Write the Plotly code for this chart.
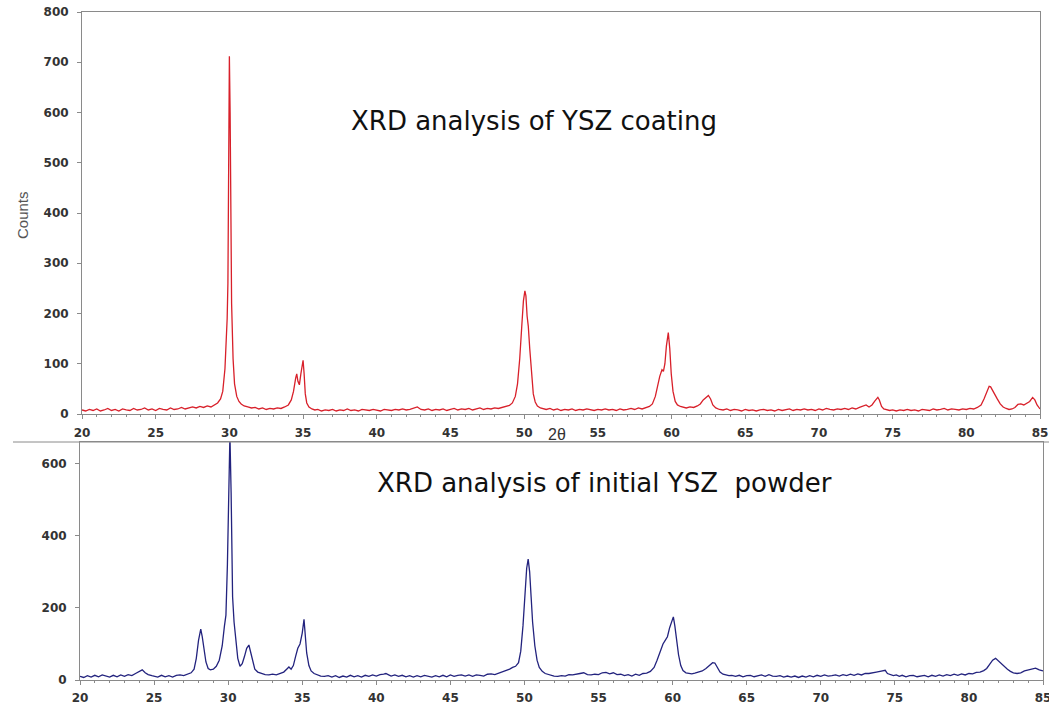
import plotly.graph_objects as go

# ---- YSZ coating (top panel) ----
coat_x = [20.0,20.25,20.5,20.75,21.0,21.25,21.5,21.75,22.0,22.25,22.5,22.75,23.0,23.25,23.5,23.75,24.0,24.25,24.5,24.75,
          25.0,25.25,25.5,25.75,26.0,26.25,26.5,26.75,27.0,27.25,27.5,27.75,28.0,28.25,28.5,28.75,29.0,29.2,29.4,29.55,
          29.7,29.8,29.85,29.9,29.95,30.0,30.05,30.1,30.15,30.25,30.35,30.5,30.65,30.8,31.0,31.25,31.5,31.75,32.0,32.25,
          32.5,32.75,33.0,33.25,33.5,33.75,34.0,34.2,34.35,34.5,34.57,34.65,34.75,34.85,34.95,35.0,35.07,35.15,35.25,35.4,
          35.6,35.8,36.0,36.25,36.5,36.75,37.0,37.25,37.5,37.75,38.0,38.25,38.5,38.75,39.0,39.25,39.5,39.75,40.0,40.25,
          40.5,40.75,41.0,41.25,41.5,41.75,42.0,42.25,42.5,42.75,43.0,43.25,43.5,43.75,44.0,44.25,44.5,44.75,45.0,45.25,
          45.5,45.75,46.0,46.25,46.5,46.75,47.0,47.25,47.5,47.75,48.0,48.25,48.5,48.75,49.0,49.2,49.4,49.55,49.7,49.85,
          49.95,50.05,50.12,50.2,50.28,50.38,50.5,50.62,50.75,50.9,51.1,51.3,51.5,51.75,52.0,52.25,52.5,52.75,53.0,53.25,
          53.5,53.75,54.0,54.25,54.5,54.75,55.0,55.25,55.5,55.75,56.0,56.25,56.5,56.75,57.0,57.25,57.5,57.75,58.0,58.25,
          58.5,58.7,58.9,59.05,59.2,59.35,59.45,59.55,59.65,59.78,59.88,59.98,60.1,60.25,60.4,60.6,60.8,61.0,61.25,61.5,
          61.75,61.95,62.15,62.35,62.5,62.65,62.8,63.0,63.25,63.5,63.75,64.0,64.25,64.5,64.75,65.0,65.25,65.5,65.75,66.0,
          66.25,66.5,66.75,67.0,67.25,67.5,67.75,68.0,68.25,68.5,68.75,69.0,69.25,69.5,69.75,70.0,70.25,70.5,70.75,71.0,
          71.25,71.5,71.75,72.0,72.25,72.5,72.75,73.0,73.2,73.4,73.6,73.8,74.0,74.1,74.25,74.4,74.6,74.8,75.0,75.25,
          75.5,75.75,76.0,76.25,76.5,76.75,77.0,77.25,77.5,77.75,78.0,78.25,78.5,78.75,79.0,79.25,79.5,79.75,80.0,80.25,
          80.5,80.75,81.0,81.2,81.4,81.55,81.65,81.75,81.9,82.1,82.3,82.5,82.7,82.9,83.1,83.3,83.5,83.7,83.9,84.1,
          84.3,84.5,84.65,84.8,85.0]
coat_y = [8,6,9,7,10,6,8,11,7,9,6,10,8,7,11,8,9,12,8,10,
          7,11,9,8,12,9,10,13,10,12,14,12,15,13,16,14,18,22,30,45,
          90,150,190,260,450,712,600,380,220,110,60,35,25,20,16,14,12,13,10,12,
          9,11,10,12,11,14,18,28,45,72,80,65,58,80,105,107,80,40,22,14,
          10,8,9,6,8,7,9,6,8,7,10,7,8,6,9,8,7,9,8,6,
          9,8,7,9,8,10,8,9,11,14,9,8,10,7,9,8,10,7,9,11,
          8,10,9,11,8,10,12,9,11,10,12,11,13,15,17,22,35,60,110,180,
          225,245,235,195,175,130,75,40,24,16,12,10,9,11,8,10,7,9,8,10,
          7,9,8,10,9,7,9,8,10,8,9,7,10,8,9,11,9,12,10,13,
          15,20,35,55,75,88,85,100,135,162,130,80,45,25,18,15,14,12,14,13,
          16,20,28,34,37,30,18,12,9,8,10,7,9,8,6,9,7,8,6,8,
          9,7,8,6,9,7,8,10,7,9,8,10,8,9,7,10,8,11,9,8,
          10,9,11,9,12,10,13,15,18,14,18,26,33,28,15,10,8,7,8,6,
          8,7,9,7,8,6,9,8,7,10,8,9,11,8,10,9,8,10,9,11,
          10,13,18,30,45,55,54,48,40,30,20,14,11,9,10,13,19,20,18,22,
          25,33,28,18,10]

# ---- initial YSZ powder (bottom panel) ----
pow_x = [20.0,20.25,20.5,20.75,21.0,21.25,21.5,21.75,22.0,22.25,22.5,22.75,23.0,23.25,23.5,23.75,24.0,24.2,24.4,24.6,
         24.85,25.0,25.25,25.5,25.75,26.0,26.25,26.5,26.75,27.0,27.25,27.5,27.7,27.85,28.0,28.15,28.25,28.35,28.5,28.65,
         28.8,29.0,29.2,29.4,29.6,29.75,29.85,29.95,30.05,30.12,30.2,30.3,30.4,30.5,30.65,30.8,30.95,31.1,31.25,31.4,
         31.5,31.65,31.8,32.0,32.25,32.5,32.75,33.0,33.25,33.5,33.75,34.0,34.1,34.25,34.4,34.55,34.7,34.85,35.0,35.12,
         35.2,35.3,35.45,35.6,35.8,36.0,36.25,36.5,36.75,37.0,37.25,37.5,37.75,38.0,38.25,38.5,38.75,39.0,39.25,39.5,
         39.75,40.0,40.25,40.5,40.65,40.8,41.0,41.25,41.5,41.75,42.0,42.25,42.5,42.75,43.0,43.25,43.5,43.75,44.0,44.25,
         44.5,44.75,45.0,45.25,45.5,45.75,46.0,46.25,46.5,46.75,47.0,47.25,47.5,47.75,48.0,48.25,48.5,48.75,49.0,49.2,
         49.4,49.6,49.75,49.9,50.05,50.15,50.25,50.35,50.45,50.55,50.7,50.85,51.0,51.2,51.4,51.6,51.8,52.0,52.25,52.5,
         52.75,53.0,53.25,53.5,53.75,54.0,54.25,54.5,54.75,55.0,55.25,55.5,55.75,56.0,56.25,56.5,56.75,57.0,57.25,57.5,
         57.75,58.0,58.25,58.5,58.75,58.95,59.15,59.35,59.5,59.65,59.8,59.95,60.05,60.15,60.25,60.4,60.55,60.7,60.9,61.1,
         61.3,61.5,61.75,62.0,62.25,62.5,62.7,62.85,63.0,63.2,63.4,63.6,63.8,64.0,64.25,64.5,64.75,65.0,65.25,65.5,
         65.75,66.0,66.25,66.5,66.75,67.0,67.25,67.5,67.75,68.0,68.25,68.5,68.75,69.0,69.25,69.5,69.75,70.0,70.25,70.5,
         70.75,71.0,71.25,71.5,71.75,72.0,72.25,72.5,72.75,73.0,73.25,73.5,73.75,74.0,74.2,74.35,74.5,74.7,74.9,75.1,
         75.3,75.5,75.75,76.0,76.25,76.5,76.75,77.0,77.25,77.5,77.75,78.0,78.25,78.5,78.75,79.0,79.25,79.5,79.75,80.0,
         80.25,80.5,80.75,81.0,81.2,81.4,81.6,81.8,82.0,82.2,82.4,82.6,82.8,83.0,83.25,83.5,83.75,84.0,84.25,84.5,
         84.75,85.0]
pow_y = [10,7,12,8,13,9,14,10,8,13,9,14,10,15,12,18,24,28,20,15,
         12,11,8,13,9,12,8,13,14,12,17,20,30,60,110,141,120,85,50,32,
         28,30,38,55,95,150,180,320,560,680,520,230,160,110,60,38,45,65,88,97,
         80,50,30,22,18,15,14,16,14,18,22,32,36,30,40,65,88,100,130,168,
         130,75,40,25,18,15,11,10,12,8,12,7,11,8,13,9,12,8,13,10,
         14,11,15,16,18,15,11,14,10,13,9,12,8,12,9,13,10,8,12,9,
         13,9,14,10,13,14,11,14,10,14,13,11,16,17,15,19,21,25,30,35,
         38,48,80,150,250,310,335,300,230,160,95,55,35,24,18,15,13,11,10,12,
         11,15,14,17,18,20,15,14,16,15,20,21,17,20,15,16,12,15,11,16,
         13,18,19,24,35,55,80,100,110,120,145,165,175,150,115,70,40,26,20,18,
         17,19,21,25,32,40,48,47,35,22,16,14,12,13,10,13,9,12,13,9,
         12,14,10,15,11,10,12,8,11,8,11,7,11,8,12,9,13,10,14,11,
         12,14,11,15,12,16,13,17,14,18,18,21,22,24,26,27,18,14,12,14,
         10,13,9,12,13,9,12,13,9,13,10,14,11,15,12,16,13,17,14,18,
         17,21,22,26,32,45,55,60,52,45,38,30,24,20,18,20,25,28,30,33,
         28,25]

top_yticks = [0, 100, 200, 300, 400, 500, 600, 700, 800]
bot_yticks = [0, 200, 400, 600]
x_ticks = [20, 25, 30, 35, 40, 45, 50, 55, 60, 65, 70, 75, 80, 85]

W, H = 1049, 704
fig = go.Figure()
fig.add_trace(go.Scatter(x=coat_x, y=coat_y, mode="lines", line=dict(color="#d8202a", width=1.3),
                         xaxis="x", yaxis="y", showlegend=False))
fig.add_trace(go.Scatter(x=pow_x, y=pow_y, mode="lines", line=dict(color="#23237e", width=1.3),
                         xaxis="x2", yaxis="y2", showlegend=False))

tickfont = dict(family="DejaVu Sans", size=12, color="#333333", weight="bold")
axis_common = dict(showgrid=False, zeroline=False, showline=True, linecolor="#8a8a8a", linewidth=1,
                   ticks="outside", ticklen=4, tickcolor="#8a8a8a", tickfont=tickfont, automargin=False,
                   ticklabeloverflow="allow")

fig.update_layout(
    width=W, height=H,
    margin=dict(l=0, r=0, t=0, b=0),
    paper_bgcolor="white", plot_bgcolor="white",
    xaxis=dict(domain=[82/W, 1040/W], range=[20, 85], tickvals=x_ticks, anchor="y",
               minor=dict(dtick=1, ticks="outside", ticklen=2, tickcolor="#8a8a8a"),
               ticklabelstandoff=4, mirror=True, **axis_common),
    yaxis=dict(domain=[1-414/H, 1-12/H], range=[0, 800], tickvals=top_yticks, anchor="x",
               ticklabelstandoff=6, mirror=True, **axis_common),
    xaxis2=dict(domain=[80/W, 1043/W], range=[20, 85], tickvals=x_ticks, anchor="y2",
                minor=dict(dtick=1, ticks="outside", ticklen=2, tickcolor="#8a8a8a"),
                ticklabelstandoff=3, mirror=True, **axis_common),
    yaxis2=dict(domain=[1-680/H, 1-442/H], range=[0, 660], tickvals=bot_yticks, anchor="x2",
                ticklabelstandoff=6, mirror=True, **axis_common),
)

def note(text, px, py, size, family="DejaVu Sans", color="#111111", angle=0):
    fig.add_annotation(text=text, xref="paper", yref="paper", x=px/W, y=1-py/H,
                       xanchor="center", yanchor="middle", showarrow=False, textangle=angle,
                       font=dict(family=family, size=size, color=color))

note("XRD analysis of YSZ coating", 534, 121, 26)
note("XRD analysis of initial YSZ  powder", 604, 483, 26)
note("Counts", 22, 215, 15, family="Liberation Sans", color="#555555", angle=-90)
note("2θ", 557, 434, 16, family="Liberation Sans", color="#333333")

# separator line between panels
fig.add_shape(type="line", xref="paper", yref="paper", x0=13/W, x1=1.0, y0=1-442/H, y1=1-442/H,
              line=dict(color="#8a8a8a", width=1))

fig.write_html("out.html", config={"displayModeBar": False},
               post_script="document.body.style.margin='0px';document.body.style.overflow='hidden';")
